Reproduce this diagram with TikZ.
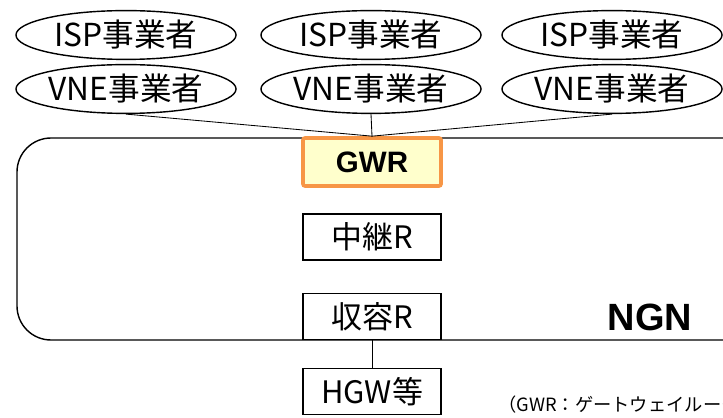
\documentclass[tikz,border=0pt]{standalone}
\usepackage{fontspec}
\setmainfont{Noto Sans CJK JP}
\newfontfamily\latinbold[BoldFont={Liberation Sans Bold}]{Liberation Sans}
\usetikzlibrary{shapes.geometric, positioning}
\definecolor{gwrorange}{HTML}{F79646}
\definecolor{gwrfill}{HTML}{FFFFCC}

\begin{document}
\begin{tikzpicture}[
    x=0.025cm, y=-0.025cm,
    operator/.style={draw, ellipse, line width=1pt, minimum width=5.5cm, minimum height=1.22cm, inner sep=0pt, font=\fontsize{22.5}{22.5}\selectfont},
    router/.style={draw, rectangle, line width=0.8pt, minimum width=3.45cm, minimum height=1.15cm, inner sep=0pt, font=\fontsize{22}{22}\selectfont},
    link/.style={draw, line width=0.6pt}
]
\clip (0,0) rectangle (723,418);

% NGN network area
\draw[line width=1pt, rounded corners=0.85cm] (17,138) rectangle (780,340);
\node[font=\latinbold\bfseries\fontsize{27}{27}\selectfont] (ngn) at (650,317) {NGN};

% operators
\node[operator] (isp1) at (126,35) {ISP事業者};
\node[operator] (isp2) at (371,35) {ISP事業者};
\node[operator] (isp3) at (612,35) {ISP事業者};
\node[operator] (vne1) at (126,89) {VNE事業者};
\node[operator] (vne2) at (371,89) {VNE事業者};
\node[operator] (vne3) at (612,89) {VNE事業者};

% routers
\node[router, draw=gwrorange, fill=gwrfill, line width=2.6pt, rounded corners=1.5pt, minimum height=1.2cm, font=\latinbold\bfseries\fontsize{21}{21}\selectfont] (gwr) at (372,162) {GWR};
\node[router] (relay) at (372,237) {中継R};
\node[router, anchor=south] (access) at (372,340) {収容R};
\node[router, below=0.7cm of access] (hgw) {HGW等};

\draw[link] (vne1.south) -- (gwr.north);
\draw[link] (vne2.south) -- (gwr.north);
\draw[link] (vne3.south) -- (gwr.north);
\draw[link] (access) -- (hgw);

\node[anchor=base west, inner sep=0pt, font=\fontsize{13}{13}\selectfont] (note) at (498,412) {（GWR：ゲートウェイルーター）};

\end{tikzpicture}
\end{document}
